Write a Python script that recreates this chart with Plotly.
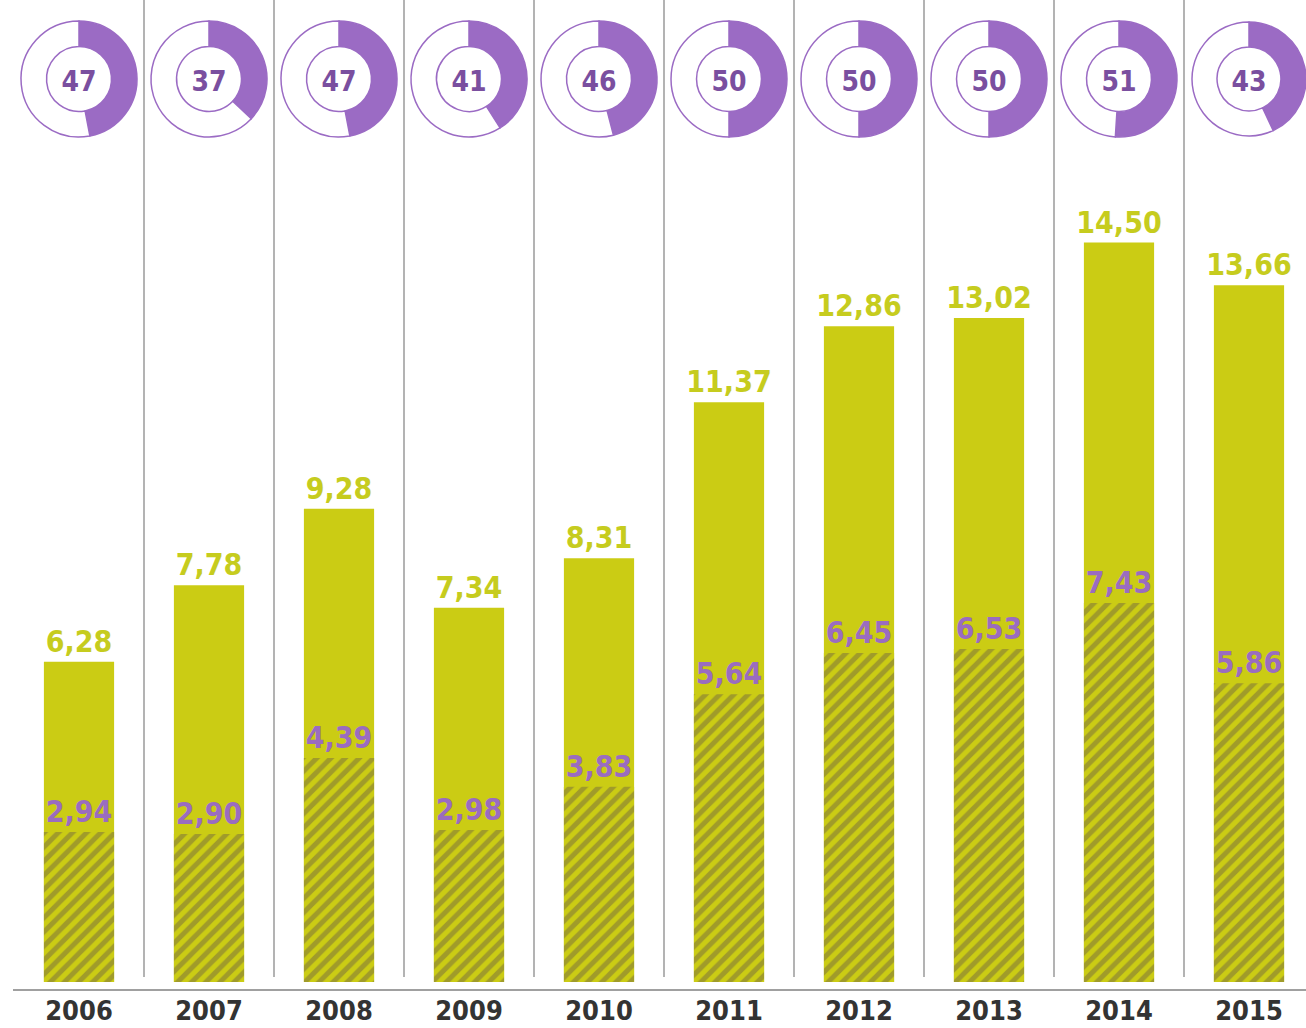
import plotly.graph_objects as go

years = ["2006", "2007", "2008", "2009", "2010", "2011", "2012", "2013", "2014", "2015"]
totals = [6.28, 7.78, 9.28, 7.34, 8.31, 11.37, 12.86, 13.02, 14.50, 13.66]
parts = [2.94, 2.90, 4.39, 2.98, 3.83, 5.64, 6.45, 6.53, 7.43, 5.86]
shares = [47, 37, 47, 41, 46, 50, 50, 50, 51, 43]

W, H = 1306, 1028
ML, MR, MT, MB = 0, 0, 0, 46
PW, PH = W - ML - MR, H - MT - MB
CAT_PX = 130.0
FIRST_CENTER_PX = 79.0
X0 = -FIRST_CENTER_PX / CAT_PX
X1 = X0 + PW / CAT_PX
PX_PER_UNIT = 51.0
YMAX = PH / PX_PER_UNIT

YELLOW = "#cbcc14"
PURPLE = "#9b6bc4"
DARK_PURPLE = "#7a4f9f"
FONT = "DejaVu Sans Condensed, Liberation Sans Narrow, Roboto, sans-serif"


def fmt(v):
    return f"{v:.2f}".replace(".", ",")


fig = go.Figure()

fig.add_trace(go.Bar(
    x=years, y=totals, width=0.54,
    marker=dict(color=YELLOW, line=dict(width=0)),
    text=[f"<b>{fmt(t)}</b>" for t in totals], textposition="outside",
    constraintext="none", cliponaxis=False,
    outsidetextfont=dict(family=FONT, size=30, color="#c6cc1e"),
    hoverinfo="skip", showlegend=False,
))
fig.add_trace(go.Bar(
    x=years, y=parts, width=0.54,
    marker=dict(color=YELLOW, line=dict(width=0),
                pattern=dict(shape="/", fgcolor="#75693f", size=10, solidity=0.5)),
    text=[f"<b>{fmt(p)}</b>" for p in parts], textposition="outside",
    constraintext="none", cliponaxis=False,
    outsidetextfont=dict(family=FONT, size=30, color="#9a6cc0"),
    hoverinfo="skip", showlegend=False,
))

# donuts
R_PX = 58.0
CY_PX = 79.0
for i, s in enumerate(shares):
    cx = (i - X0) / (X1 - X0)
    cy = 1 - CY_PX / PH
    dx = min(R_PX / PW, 1 - cx, cx)
    dy = R_PX / PH
    fig.add_trace(go.Pie(
        values=[s, 100 - s], hole=0.56, sort=False, direction="clockwise", rotation=0,
        marker=dict(colors=[PURPLE, "#ffffff"], line=dict(color=PURPLE, width=1.5)),
        textinfo="none", hoverinfo="skip", showlegend=False,
        domain=dict(x=[cx - dx, cx + dx], y=[cy - dy, cy + dy]),
        title=dict(text=f"<b>{s}</b>", position="middle center",
                   font=dict(family=FONT, size=28, color=DARK_PURPLE)),
    ))

shapes = []
for i in range(len(years) - 1):
    shapes.append(dict(type="line", xref="x", yref="paper", x0=i + 0.5, x1=i + 0.5,
                       y0=0.005, y1=1.0, line=dict(color="#9a9a9a", width=1.5), layer="below"))
shapes.append(dict(type="line", xref="paper", yref="paper", x0=13 / PW, x1=1.0,
                   y0=-8 / PH, y1=-8 / PH, line=dict(color="#a0a0a0", width=2)))

fig.update_layout(
    width=W, height=H,
    margin=dict(l=ML, r=MR, t=MT, b=MB),
    paper_bgcolor="white", plot_bgcolor="white",
    barmode="overlay",
    xaxis=dict(type="category", range=[X0, X1], showgrid=False, zeroline=False,
               showline=False, ticks="", ticklabelstandoff=10,
               tickfont=dict(family=FONT, size=27, color="#333333", weight="bold")),
    yaxis=dict(range=[0, YMAX], visible=False, showgrid=False, zeroline=False),
    shapes=shapes,
)

fig.write_html("out.html", config={"displayModeBar": False},
               post_script="document.body.style.margin='0px';")
